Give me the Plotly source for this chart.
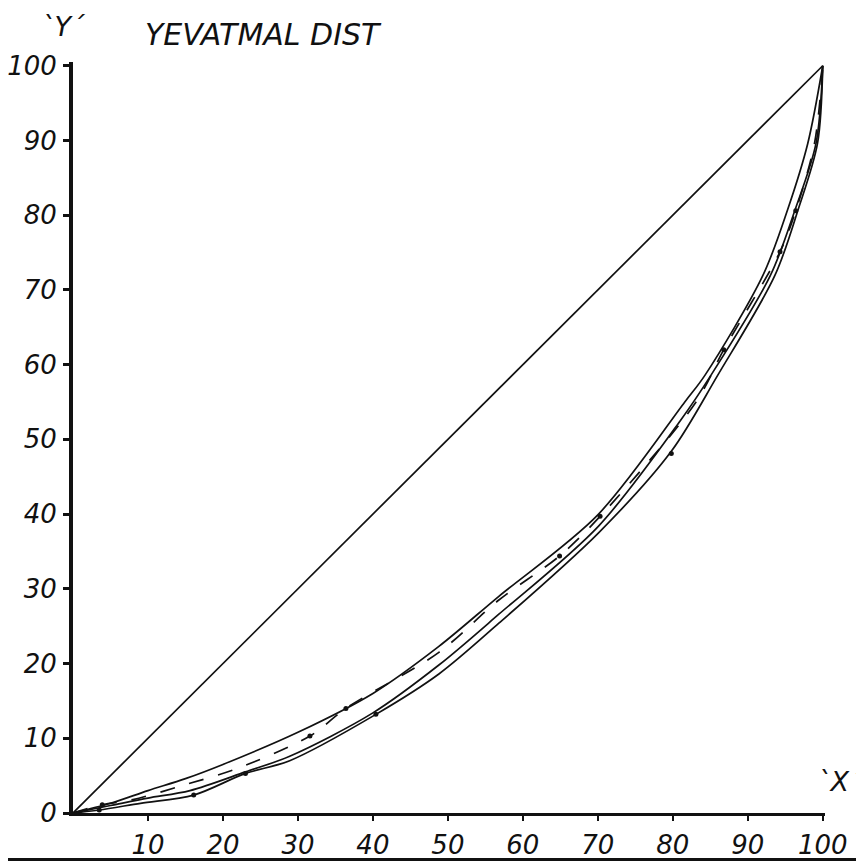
import plotly.graph_objects as go

# percentages
equality_x = [0, 100]
equality_y = [0, 100]

curve_a_x = [0, 5, 10, 15, 20, 30, 40, 48.8, 56.8, 70, 81.6, 84.3, 92, 95.3, 98, 100]
curve_a_y = [0, 1.3, 3, 4.6, 6.5, 10.8, 16, 22.3, 29, 39.9, 55, 58.6, 71.9, 80.7, 89.6, 100]

curve_b_x = [0, 3.9, 8, 15, 22, 31.6, 36.4, 48.8, 56.8, 64.9, 70.3, 83.1, 86.8, 94.3, 96.4, 98.9, 100]
curve_b_y = [0, 1.1, 1.8, 3.8, 6, 10.3, 14, 21.5, 28.5, 34.4, 39.7, 55, 62, 75.1, 80.6, 89.6, 100]

curve_c_x = [0, 5, 10, 15.6, 23, 28.9, 40, 48.8, 56.8, 70.1, 81, 85.1, 93, 96.3, 99.1, 100]
curve_c_y = [0, 1, 2, 3, 5.5, 7.6, 13.4, 19.8, 26.6, 38.4, 52.5, 58.6, 71.9, 80.7, 89.6, 100]

curve_d_x = [0, 3.5, 9, 16.1, 23, 28.9, 40.4, 48.8, 56.8, 70.1, 79.8, 86, 93.6, 96.7, 99.3, 100]
curve_d_y = [0, 0.4, 1.3, 2.4, 5.3, 7.0, 13.2, 18.6, 25.4, 37.5, 48.4, 58.6, 71.9, 80.7, 89.6, 100]

# plotted observation dots
dots_x = [3.9, 3.5, 16.1, 23, 31.6, 36.4, 40.4, 64.9, 70.3, 79.8, 86.8, 94.3, 96.4]
dots_y = [1.1, 0.4, 2.4, 5.3, 10.3, 14, 13.2, 34.4, 39.7, 48.1, 62, 75.1, 80.6]

x_ticks = [10, 20, 30, 40, 50, 60, 70, 80, 90, 100]
y_ticks = [0, 10, 20, 30, 40, 50, 60, 70, 80, 90, 100]

ink = "#111111"
label_font = dict(family="DejaVu Sans", size=26, color=ink, style="italic")

fig = go.Figure()

fig.add_trace(go.Scatter(x=equality_x, y=equality_y, mode="lines",
                         line=dict(color=ink, width=1.7), cliponaxis=False))

for cx, cy, dash in [(curve_a_x, curve_a_y, "solid"),
                     (curve_b_x, curve_b_y, "longdash"),
                     (curve_c_x, curve_c_y, "solid"),
                     (curve_d_x, curve_d_y, "solid")]:
    fig.add_trace(go.Scatter(
        x=cx, y=cy, mode="lines",
        line=dict(color=ink, width=1.7, shape="spline", smoothing=0.9, dash=dash),
        cliponaxis=False,
    ))

fig.add_trace(go.Scatter(x=dots_x, y=dots_y, mode="markers",
                         marker=dict(color=ink, size=5), cliponaxis=False))

fig.update_xaxes(
    range=[0, 100.3], automargin=False,
    showgrid=False, zeroline=False,
    showline=True, linecolor=ink, linewidth=3,
    ticks="outside", ticklen=5, tickwidth=2, tickcolor=ink,
    tickvals=x_ticks, ticktext=[str(t) for t in x_ticks],
    tickfont=label_font, ticklabelstandoff=2,
)
fig.update_yaxes(
    range=[0, 100.5], automargin=False,
    showgrid=False, zeroline=False,
    showline=True, linecolor=ink, linewidth=4,
    ticks="outside", ticklen=6, tickwidth=3, tickcolor=ink,
    tickvals=y_ticks, ticktext=[str(t) for t in y_ticks],
    tickfont=label_font, ticklabelstandoff=1,
)

title_font = dict(family="DejaVu Sans", size=30, color=ink, style="italic")
fig.add_annotation(text="YEVATMAL DIST", xref="paper", yref="paper",
                   x=0.093, y=1.036, xanchor="left", yanchor="middle",
                   showarrow=False, font=title_font)
fig.add_annotation(text="`Y´", xref="paper", yref="paper",
                   x=-0.012, y=1.047, xanchor="center", yanchor="middle",
                   showarrow=False, font=dict(family="DejaVu Sans", size=27, color=ink, style="italic"))
fig.add_annotation(text="`X´", xref="paper", yref="paper",
                   x=1.02, y=0.042, xanchor="center", yanchor="middle",
                   showarrow=False, font=dict(family="DejaVu Sans", size=27, color=ink, style="italic"))

# thick rule along the bottom edge of the scan
fig.add_shape(type="line", xref="paper", yref="paper",
              x0=-0.1, x1=1.06, y0=-0.062, y1=-0.062,
              line=dict(color=ink, width=3))

# page body keeps an 8px margin, so the figure is sized to sit inside the window
fig.update_layout(
    width=856, height=854,
    margin=dict(l=65, r=39, t=54, b=49, autoexpand=False),
    paper_bgcolor="white", plot_bgcolor="white",
    showlegend=False,
)

fig.write_html("out.html")
